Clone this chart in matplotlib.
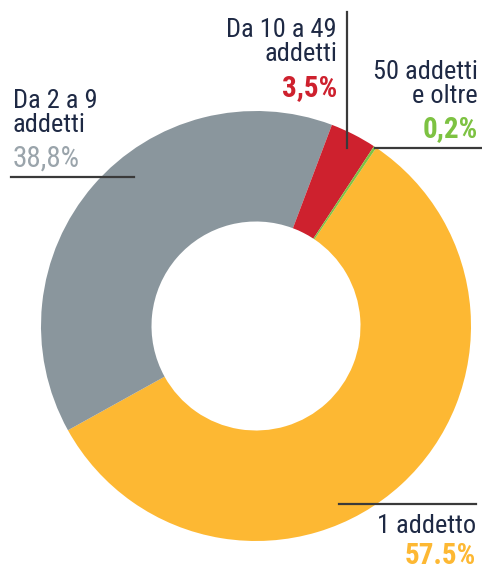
import matplotlib
matplotlib.use("Agg")
import matplotlib.pyplot as plt

labels = ["1 addetto", "Da 2 a 9\naddetti", "Da 10 a 49\naddetti", "50 addetti\ne oltre"]
values = [57.5, 38.8, 3.5, 0.2]
pct_text = ["57.5%", "38,8%", "3,5%", "0,2%"]
colors = ["#FDB833", "#8A969D", "#CE212E", "#7DC242"]
pct_colors = ["#FDB833", "#9AA4AB", "#CE212E", "#7DC242"]
text_color = "#1E2944"

plt.rcParams['font.family'] = ['Roboto Condensed', 'Liberation Sans Narrow', 'Roboto', 'DejaVu Sans']

W, H = 482, 570
fig = plt.figure(figsize=(W / 100, H / 100), dpi=100)
ax = fig.add_axes([0, 0, 1, 1])

cx, cy, R = 256, H - 326, 215
ax.pie(values, colors=colors, startangle=56, counterclock=False,
       radius=R, center=(cx, cy), wedgeprops=dict(width=R - 104.5, linewidth=0),
       frame=True)
ax.set_xlim(0, W)
ax.set_ylim(0, H)
ax.set_aspect('equal')
ax.axis('off')

def Y(y):
    return H - y

lc = "#3a3a3a"
# leader lines
ax.plot([11, 134], [Y(177), Y(177)], color=lc, lw=1.6)
ax.plot([347, 347], [Y(12), Y(148)], color=lc, lw=1.6)
ax.plot([375, 482], [Y(148), Y(148)], color=lc, lw=1.6)
ax.plot([339, 476], [Y(504), Y(504)], color=lc, lw=1.6)

fs, pfs = 19, 21
# Da 2 a 9
ax.text(13, Y(132), labels[1], ha='left', va='baseline', fontsize=fs, color=text_color, linespacing=1.0)
ax.text(13, Y(167), pct_text[1], ha='left', va='baseline', fontsize=pfs, color=pct_colors[1])
# Da 10 a 49
ax.text(337, Y(61), labels[2], ha='right', va='baseline', fontsize=fs, color=text_color, linespacing=1.0)
ax.text(337, Y(96), pct_text[2], ha='right', va='baseline', fontsize=pfs, color=pct_colors[2], fontweight='bold')
# 50 addetti e oltre
ax.text(478, Y(103), labels[3], ha='right', va='baseline', fontsize=fs, color=text_color, linespacing=1.0)
ax.text(478, Y(137), pct_text[3], ha='right', va='baseline', fontsize=pfs, color=pct_colors[3], fontweight='bold')
# 1 addetto
ax.text(476, Y(533), labels[0], ha='right', va='baseline', fontsize=fs, color=text_color)
ax.text(476, Y(564), pct_text[0], ha='right', va='baseline', fontsize=pfs, color=pct_colors[0], fontweight='bold')

fig.savefig("out.png", dpi=100)
